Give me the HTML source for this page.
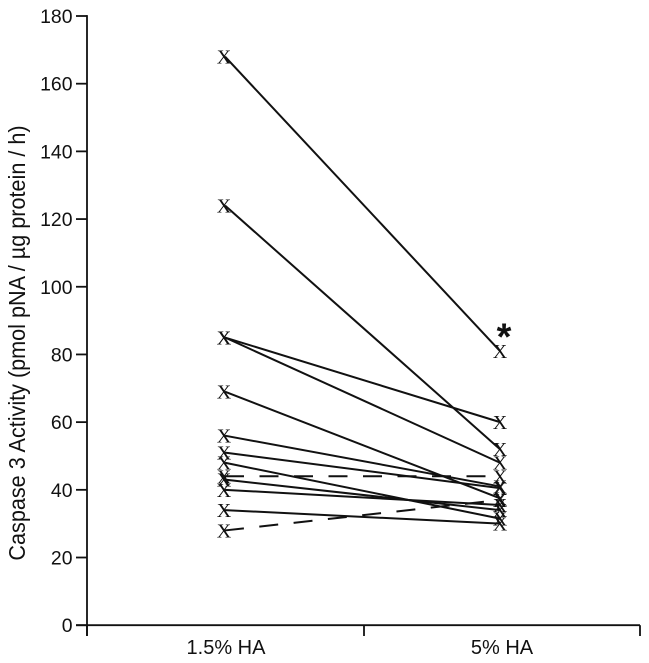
<!DOCTYPE html>
<html>
<head>
<meta charset="utf-8">
<style>
html,body{margin:0;padding:0;background:#fff;}
svg{display:block;}
text{font-family:"Liberation Sans",sans-serif;fill:#111;}
.mk{font-family:"Liberation Serif",serif;fill:#111;}
</style>
</head>
<body>
<svg id="chart" width="649" height="663" viewBox="0 0 649 663" xmlns="http://www.w3.org/2000/svg">
<text transform="translate(25,343) rotate(-90) scale(0.92,1)" text-anchor="middle" font-size="23.5">Caspase 3 Activity (pmol pNA / µg protein / h)</text>
<text x="504" y="349.5" text-anchor="middle" font-size="38" font-weight="bold" style="fill:#111">*</text>
</svg>
<script>
const categories = ['1.5% HA', '5% HA'];
const yTickValues = [0, 20, 40, 60, 80, 100, 120, 140, 160, 180];
const solidStart = [168, 124, 85, 85, 69, 56, 51, 48, 43, 40, 34];
const solidEnd = [81, 52, 60, 48, 37.5, 41, 40.5, 31.5, 34, 35.5, 30];
const dashedStart = [44, 28];
const dashedEnd = [44, 37];

const svg = document.getElementById('chart');
const NS = 'http://www.w3.org/2000/svg';
const yScale = v => 625.2 - v * (609.2 / 180);
const xScale = i => 225 + i * 275;
const axisLeft = 87, axisRight = 640, axisBottom = 636;

function line(x1, y1, x2, y2, w) {
  const l = document.createElementNS(NS, 'line');
  l.setAttribute('x1', x1);
  l.setAttribute('y1', y1);
  l.setAttribute('x2', x2);
  l.setAttribute('y2', y2);
  l.setAttribute('stroke', '#111');
  l.setAttribute('stroke-width', w);
  svg.appendChild(l);
  return l;
}
function label(x, y, str, anchor, size, cls) {
  const t = document.createElementNS(NS, 'text');
  t.setAttribute('x', x);
  t.setAttribute('y', y);
  t.setAttribute('text-anchor', anchor);
  t.setAttribute('font-size', size);
  if (cls) t.setAttribute('class', cls);
  t.textContent = str;
  svg.appendChild(t);
  return t;
}

const yAxis = line(axisLeft, yScale(180) - 0.9, axisLeft, axisBottom, 1.8);


const xAxis = line(axisLeft - 11, yScale(0), axisRight, yScale(0), 1.8);



yTickValues.forEach(v => {
  const tick = line(axisLeft - 11, yScale(v), axisLeft, yScale(v), 1.8);
  
  
  const lab = label(72.5, yScale(v) + 7, String(v), 'end', 19.4);
  
  
});

[axisLeft, 364, axisRight].forEach(x => {
  const tick = line(x, yScale(0), x, axisBottom, 1.8);
  
  
});

categories.forEach((c, i) => {
  const lab = label(xScale(i) + (i ? 2 : 1), 654, c, 'middle', 20);
  
  
});

function drawPair(a, b, dashed) {
  const seg = line(xScale(0), yScale(a), xScale(1), yScale(b), 2);
  if (dashed) seg.setAttribute('stroke-dasharray', '19 15.5');
  
  
  [a, b].forEach((v, i) => {
    const m = label(xScale(i) - (i ? 0 : 1), yScale(v) + 7, 'X', 'middle', 20, 'mk');
    
    
  });
}
solidStart.forEach((a, i) => drawPair(a, solidEnd[i], false));
dashedStart.forEach((a, i) => drawPair(a, dashedEnd[i], true));
</script>
</body>
</html>
